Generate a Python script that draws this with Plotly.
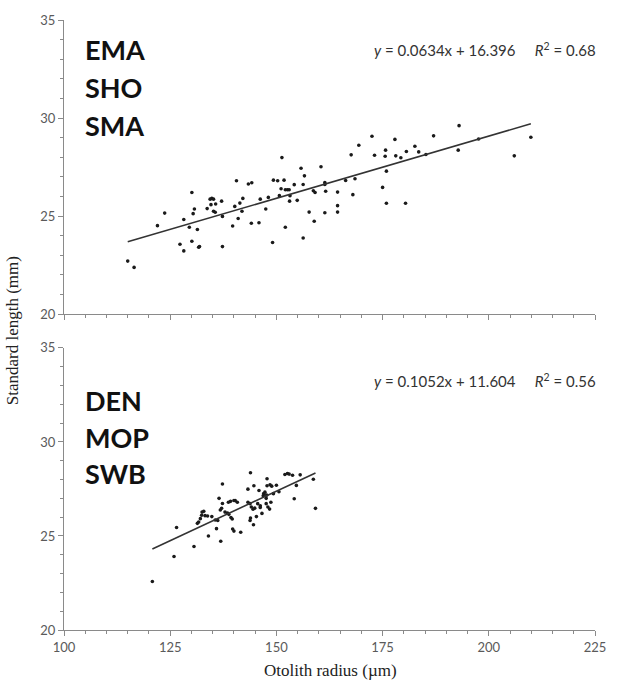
import plotly.graph_objects as go

# ---------------- data ----------------
top_x = [115.0, 116.5, 122.0, 123.7, 127.3, 128.2, 128.2, 130.1, 130.4, 130.7,
         129.5, 131.4, 130.1, 131.7, 131.9, 133.7, 134.4, 134.8, 135.2, 134.6,
         135.2, 135.6, 135.7, 137.1, 137.3, 137.3, 139.7, 140.2, 140.6, 141.0,
         141.4, 141.9, 142.1, 143.4, 144.2, 144.1, 145.9, 146.2, 147.5, 148.1,
         149.1, 149.3, 150.3, 150.7, 151.3, 151.1, 151.8, 152.1, 152.6, 153.0,
         152.1, 153.1, 153.2, 154.2, 154.9, 155.8, 156.3, 156.6, 156.3, 157.7,
         158.7, 158.9, 159.1, 160.5, 161.4, 161.4, 161.6, 161.4, 164.4, 164.4,
         164.4, 166.3, 167.6, 168.0, 168.5, 193.0, 187.0, 197.6, 192.8, 206.0,
         209.9, 172.5, 169.4, 177.9, 173.1, 175.7, 175.6, 178.1, 179.3, 180.6,
         182.6, 183.5, 185.2, 175.9, 175.0, 175.9, 180.4]
top_y = [22.70, 22.38, 24.51, 25.15, 23.56, 23.22, 24.82, 26.20, 25.12, 25.36,
         24.43, 24.31, 23.71, 23.41, 23.44, 25.38, 25.86, 25.90, 25.86, 25.58,
         25.24, 25.19, 25.61, 25.76, 24.98, 23.44, 24.49, 25.49, 26.80, 24.87,
         25.66, 25.24, 25.90, 26.63, 26.70, 24.63, 24.66, 25.86, 25.36, 25.95,
         23.65, 26.83, 26.80, 26.04, 27.98, 26.39, 26.83, 26.34, 26.34, 26.34,
         24.43, 25.76, 26.04, 26.60, 25.80, 27.44, 26.61, 27.05, 23.88, 25.20,
         26.29, 24.73, 26.20, 27.51, 26.71, 26.61, 26.26, 25.17, 26.22, 25.53,
         25.20, 26.81, 28.12, 26.09, 26.90, 29.61, 29.09, 28.93, 28.36, 28.07,
         29.02, 29.07, 28.61, 28.91, 28.10, 28.36, 28.05, 28.07, 27.97, 28.29,
         28.56, 28.27, 28.14, 27.29, 26.46, 25.65, 25.65]

bot_x = [120.8, 125.9, 126.5, 130.6, 134.0, 136.9, 135.9, 131.4, 132.1, 132.5,
         132.9, 133.2, 133.8, 134.8, 135.6, 136.2, 136.5, 137.3, 137.3, 136.8,
         137.1, 137.9, 138.5, 138.8, 139.3, 139.6, 138.7, 139.2, 140.3, 140.8,
         139.7, 140.0, 141.6, 143.3, 143.3, 143.8, 144.1, 144.5, 144.9, 143.9,
         143.8, 144.7, 144.6, 145.3, 145.9, 146.2, 146.6, 147.0, 147.3, 147.6,
         147.8, 147.8, 148.0, 148.4, 148.5, 148.9, 148.7, 150.0, 149.3, 152.0,
         152.6, 153.0, 153.8, 154.2, 154.7, 155.6, 158.7, 159.2, 143.9, 150.6,
         146.9, 147.7, 147.6, 145.6, 146.2, 140.0, 131.7, 132.4]
bot_y = [22.58, 23.91, 25.45, 24.44, 25.00, 24.72, 25.39, 25.67, 25.92, 26.27,
         26.31, 26.08, 26.06, 26.03, 25.85, 25.82, 27.00, 27.76, 26.73, 26.38,
         26.47, 26.27, 26.22, 26.15, 25.98, 25.90, 26.79, 26.84, 26.88, 26.79,
         25.37, 25.26, 25.20, 27.49, 26.79, 26.72, 26.54, 26.42, 26.48, 25.95,
         25.82, 27.67, 25.60, 26.03, 27.42, 26.61, 26.20, 27.25, 27.33, 27.00,
         28.04, 27.67, 26.54, 26.43, 27.72, 27.65, 26.79, 27.70, 27.25, 28.27,
         28.32, 28.29, 28.23, 26.98, 27.69, 28.25, 28.02, 26.47, 28.36, 27.35,
         27.14, 27.17, 26.72, 26.72, 26.52, 26.89, 25.74, 26.10]

top_slope, top_intercept, top_r2 = 0.0634, 16.396, 0.68
bot_slope, bot_intercept, bot_r2 = 0.1052, 11.604, 0.56

top_labels = ["EMA", "SHO", "SMA"]
bot_labels = ["DEN", "MOP", "SWB"]

x_range = [100, 225]
y_range = [20, 35]
x_title = "Otolith radius (\u00b5m)"
y_title = "Standard length (mm)"

# ---------------- figure ----------------
W, H = 618, 686
ML, MR, MT, MB = 64, 20, 18, 56
PW, PH = W - ML - MR, H - MT - MB


def px(xp):
    return (xp - ML) / PW


def py(yp):
    return (H - MB - yp) / PH


top_dom = [py(313), 1.0]
bot_dom = [0.0, py(347)]

dot = dict(size=3.6, color="#1a1a1a")
line_style = dict(color="#333333", width=1.6)

fig = go.Figure()
fig.add_trace(go.Scatter(x=top_x, y=top_y, mode="markers", marker=dot,
                         xaxis="x", yaxis="y", showlegend=False))
tx = [min(top_x), max(top_x)]
fig.add_trace(go.Scatter(x=tx, y=[top_slope * v + top_intercept for v in tx],
                         mode="lines", line=line_style, xaxis="x", yaxis="y",
                         showlegend=False))
fig.add_trace(go.Scatter(x=bot_x, y=bot_y, mode="markers", marker=dot,
                         xaxis="x2", yaxis="y2", showlegend=False))
bx = [min(bot_x), max(bot_x)]
fig.add_trace(go.Scatter(x=bx, y=[bot_slope * v + bot_intercept for v in bx],
                         mode="lines", line=line_style, xaxis="x2", yaxis="y2",
                         showlegend=False))

tick_font = dict(family="Lato, Carlito, sans-serif", size=13, color="#5a5a5a")
axis_common = dict(showline=True, linecolor="#8a8a8a", linewidth=1,
                   ticks="outside", ticklen=5, tickcolor="#8a8a8a",
                   showgrid=False, zeroline=False, tickfont=tick_font)

xa = dict(axis_common, range=x_range, dtick=25, tick0=100,
          minor=dict(ticks="outside", dtick=5, ticklen=3, tickcolor="#8a8a8a"))
ya = dict(axis_common, range=y_range, dtick=5, tick0=20,
          minor=dict(ticks="outside", dtick=1, ticklen=3, tickcolor="#8a8a8a"))

fig.update_layout(
    width=W, height=H,
    margin=dict(l=ML, r=MR, t=MT, b=MB),
    paper_bgcolor="white", plot_bgcolor="white",
    xaxis=dict(xa, anchor="y", showticklabels=False),
    yaxis=dict(ya, domain=top_dom, anchor="x"),
    xaxis2=dict(xa, anchor="y2"),
    yaxis2=dict(ya, domain=bot_dom, anchor="x2"),
)

ann = []
label_font = dict(family="Lato, Carlito, sans-serif", size=27, color="#111111")
for lbl, yp in zip(top_labels, [48, 86, 124]):
    ann.append(dict(text="<b>%s</b>" % lbl, x=px(83), y=py(yp), xref="paper",
                    yref="paper", xanchor="left", yanchor="middle",
                    showarrow=False, font=label_font))
for lbl, yp in zip(bot_labels, [400, 437, 473]):
    ann.append(dict(text="<b>%s</b>" % lbl, x=px(83), y=py(yp), xref="paper",
                    yref="paper", xanchor="left", yanchor="middle",
                    showarrow=False, font=label_font))

eq_font = dict(family="Lato, Carlito, sans-serif", size=15, color="#333333")
sp = "\u00a0"
eq_top = ("<i>y</i> = %.4fx + %.3f%s<i>R</i><sup>2</sup> = %.2f"
          % (top_slope, top_intercept, sp * 5, top_r2))
eq_bot = ("<i>y</i> = %.4fx + %.3f%s<i>R</i><sup>2</sup> = %.2f"
          % (bot_slope, bot_intercept, sp * 5, bot_r2))
ann.append(dict(text=eq_top, x=px(601), y=py(48), xref="paper", yref="paper",
                xanchor="right", yanchor="middle", showarrow=False, font=eq_font))
ann.append(dict(text=eq_bot, x=px(601), y=py(380), xref="paper", yref="paper",
                xanchor="right", yanchor="middle", showarrow=False, font=eq_font))

ann.append(dict(text=y_title, x=px(13), y=py(330), xref="paper", yref="paper",
                xanchor="center", yanchor="middle", textangle=-90, showarrow=False,
                font=dict(family="Liberation Serif, Times New Roman, serif",
                          size=17, color="#222222")))
ann.append(dict(text=x_title, x=px(332), y=py(671), xref="paper", yref="paper",
                xanchor="center", yanchor="middle", showarrow=False,
                font=dict(family="Liberation Serif, Times New Roman, serif",
                          size=17, color="#222222")))
fig.update_layout(annotations=ann)

fig.write_html(
    "out.html",
    config={"displayModeBar": False},
    post_script="document.body.style.margin='0';"
                "document.body.style.overflow='hidden';"
                "document.documentElement.style.overflow='hidden';",
)
